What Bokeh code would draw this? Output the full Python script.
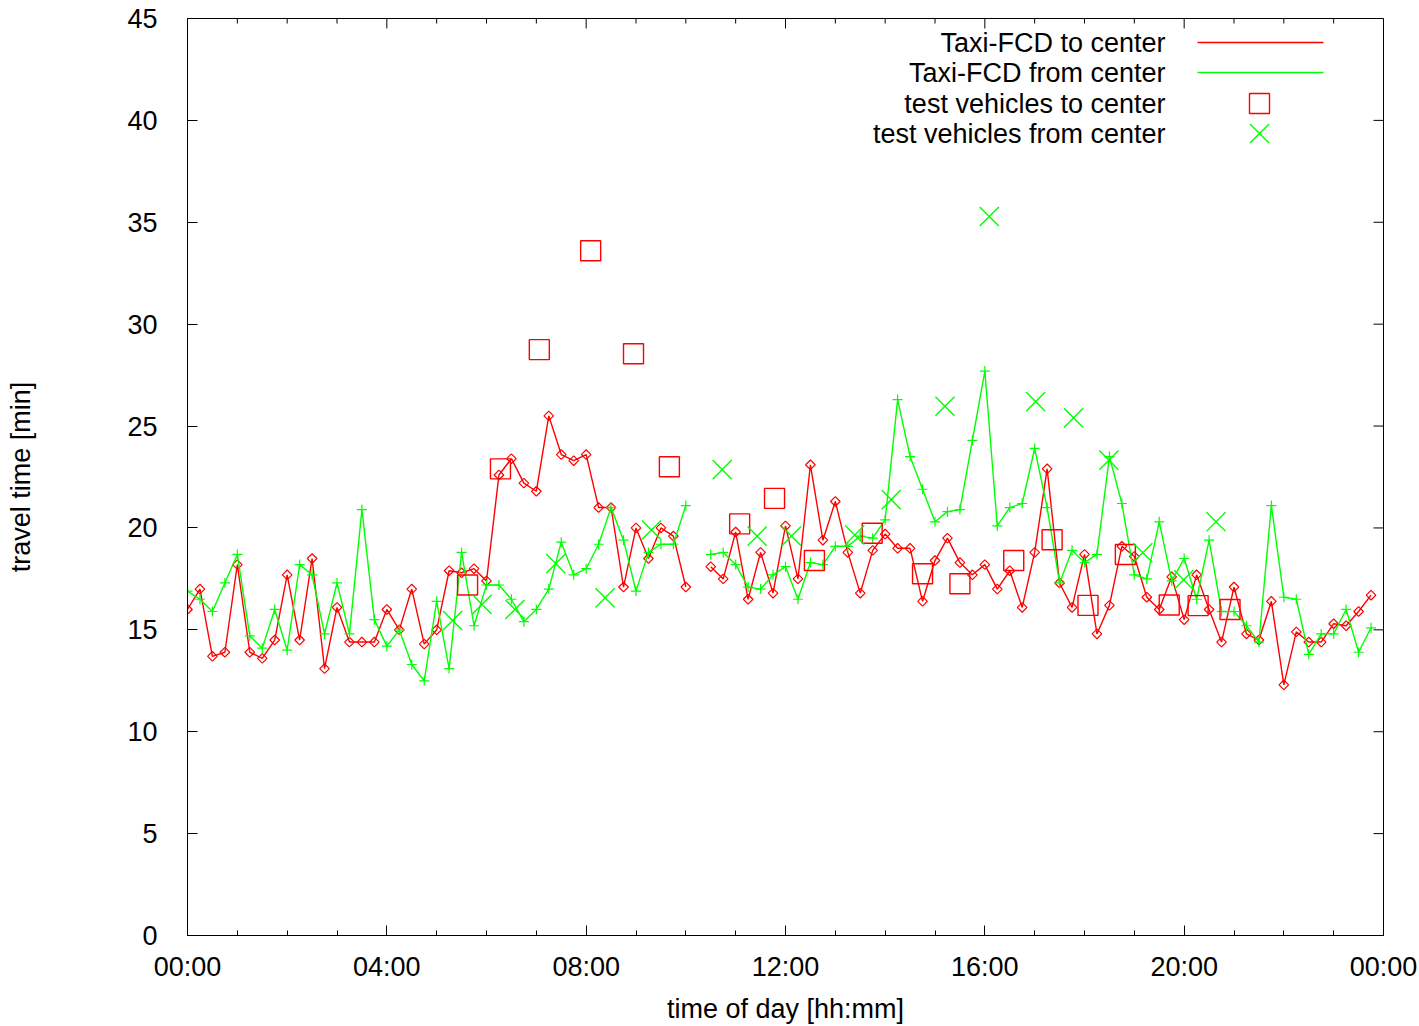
import numpy as np
from bokeh.plotting import figure
from bokeh.models import FixedTicker, Range1d, Label
from bokeh.embed import file_html
from bokeh.resources import INLINE

# ---------------- data ----------------
# Taxi-FCD samples every 15 minutes (hours of day); NaN = no data
fcd_hours = [i * 0.25 for i in range(96)]

fcd_to_center = [
    16.0, 17.0, 13.7, 13.9, 18.2, 13.9, 13.6, 14.5,
    17.7, 14.5, 18.5, 13.1, 16.1, 14.4, 14.4, 14.4,
    16.0, 15.0, 17.0, 14.3, 15.0, 17.9, 17.8, 18.0,
    17.4, 22.6, 23.4, 22.2, 21.8, 25.5, 23.6, 23.3,
    23.6, 21.0, 21.0, 17.1, 20.0, 18.5, 20.0, 19.6,
    17.1, np.nan, 18.1, 17.5, 19.8, 16.5, 18.8, 16.8,
    20.1, 17.5, 23.1, 19.4, 21.3, 18.8, 16.8, 18.9,
    19.7, 19.0, 19.0, 16.4, 18.4, 19.5, 18.3, 17.7,
    18.2, 17.0, 17.9, 16.1, 18.8, 22.9, 17.3, 16.1,
    18.7, 14.8, 16.2, 19.1, 18.6, 16.6, 16.0, 17.6,
    15.5, 17.7, 16.0, 14.4, 17.1, 14.8, 14.5, 16.4,
    12.3, 14.9, 14.4, 14.4, 15.3, 15.2, 15.9, 16.7,
]

fcd_from_center = [
    16.9, 16.5, 15.9, 17.3, 18.7, 14.7, 14.1, 16.0,
    14.0, 18.2, 17.7, 14.8, 17.3, 14.8, 20.9, 15.5,
    14.2, 15.0, 13.3, 12.5, 16.4, 13.1, 18.8, 15.2,
    17.2, 17.2, 16.5, 15.4, 16.0, 17.0, 19.3, 17.7,
    18.0, 19.2, 21.0, 19.4, 16.9, 18.8, 19.2, 19.2,
    21.1, np.nan, 18.7, 18.8, 18.2, 17.1, 17.0, 17.7,
    18.1, 16.5, 18.3, 18.2, 19.1, 19.1, 19.6, 19.5,
    20.4, 26.3, 23.5, 21.9, 20.3, 20.8, 20.9, 24.3,
    27.7, 20.1, 21.0, 21.2, 23.9, 21.0, 17.3, 18.9,
    18.3, 18.7, 23.5, 21.2, 17.7, 17.5, 20.3, 17.4,
    18.5, 16.5, 19.4, 15.9, 15.9, 15.2, 14.4, 21.1,
    16.6, 16.5, 13.8, 14.8, 14.8, 16.0, 13.9, 15.1,
]

test_to_hours = [5.62, 6.28, 7.06, 8.09, 8.95, 9.67, 11.08, 11.78, 12.58, 13.74,
                 14.75, 15.50, 16.58, 17.35, 18.07, 18.82, 19.70, 20.28, 20.92]
test_to_vals = [17.2, 22.9, 28.75, 33.6, 28.55, 23.0, 20.2, 21.45, 18.4, 19.74,
                17.75, 17.26, 18.4, 19.42, 16.2, 18.7, 16.22, 16.19, 16.0]

test_from_hours = [5.32, 5.91, 6.57, 7.39, 8.38, 9.31, 10.73, 11.43, 12.12, 13.39,
                   14.12, 15.20, 16.09, 17.02, 17.78, 18.49, 19.17, 19.99, 20.64]
test_from_vals = [15.46, 16.25, 16.0, 18.25, 16.57, 19.9, 22.86, 19.6, 19.6, 19.65,
                  21.39, 25.97, 35.28, 26.2, 25.4, 23.33, 18.78, 17.45, 20.3]

x_tick_hours = [0, 4, 8, 12, 16, 20, 24]
x_tick_labels = ["00:00", "04:00", "08:00", "12:00", "16:00", "20:00", "00:00"]
x_minor_hours = list(range(25))
y_ticks = [0, 5, 10, 15, 20, 25, 30, 35, 40, 45]

legend_labels = ["Taxi-FCD to center", "Taxi-FCD from center",
                 "test vehicles to center", "test vehicles from center"]

RED = "#ff0000"
GREEN = "#00ff00"
FONT = "Liberation Sans"
FS = "27px"

# ---------------- figure ----------------
FRAME_W, FRAME_H = 1196, 917
X0, X1, Y0, Y1 = 0, 24, 0, 45
p = figure(width=1419, height=1026, output_backend="svg", toolbar_location=None,
           x_range=Range1d(X0, X1), y_range=Range1d(Y0, Y1),
           min_border_left=187, min_border_right=36,
           min_border_top=18, min_border_bottom=91)
p.background_fill_color = "white"
p.border_fill_color = "white"
p.outline_line_color = "black"
p.outline_line_width = 1
p.xgrid.visible = False
p.ygrid.visible = False

xt = FixedTicker(ticks=x_tick_hours, minor_ticks=x_minor_hours)
yt = FixedTicker(ticks=y_ticks)


def style_axis(ax):
    ax.axis_line_color = "black"
    ax.axis_line_width = 1
    ax.major_tick_in = 10
    ax.major_tick_out = 0
    ax.minor_tick_in = 5
    ax.minor_tick_out = 0
    ax.major_tick_line_color = "black"
    ax.minor_tick_line_color = "black"
    ax.major_label_text_font = FONT
    ax.major_label_text_font_size = FS
    ax.major_label_text_color = "black"
    ax.axis_label_text_font = FONT
    ax.axis_label_text_font_size = FS
    ax.axis_label_text_font_style = "normal"
    ax.axis_label_text_color = "black"


xa = p.xaxis[0]
xa.ticker = xt
style_axis(xa)
xa.major_label_overrides = {h: s for h, s in zip(x_tick_hours, x_tick_labels)}
xa.major_label_standoff = 16
xa.axis_label = "time of day [hh:mm]"
xa.axis_label_standoff = 9

ya = p.yaxis[0]
ya.ticker = yt
style_axis(ya)
ya.minor_tick_line_color = None
ya.major_label_standoff = 30
ya.axis_label = "travel time [min]"
ya.axis_label_standoff = 88


def px_x(n):  # pixel length -> hours
    return (X1 - X0) * n / FRAME_W


def px_y(n):  # pixel length -> minutes
    return (Y1 - Y0) * n / FRAME_H


# mirrored ticks on top and right (gnuplot style)
top_major = [h for h in x_minor_hours if h in x_tick_hours]
top_minor = [h for h in x_minor_hours if h not in x_tick_hours]
p.segment(x0=top_major, y0=[Y1] * len(top_major), x1=top_major,
          y1=[Y1 - px_y(10)] * len(top_major), line_color="black", line_width=1)
p.segment(x0=top_minor, y0=[Y1] * len(top_minor), x1=top_minor,
          y1=[Y1 - px_y(5)] * len(top_minor), line_color="black", line_width=1)
p.segment(x0=[X1] * len(y_ticks), y0=y_ticks, x1=[X1 - px_x(10)] * len(y_ticks),
          y1=y_ticks, line_color="black", line_width=1)

# ---------------- data glyphs ----------------
p.line(fcd_hours, fcd_to_center, line_color=RED, line_width=1.4)
p.scatter(fcd_hours, fcd_to_center, marker="square", size=6.8, angle=np.pi / 4,
          fill_color=None, line_color=RED, line_width=1.2)

p.line(fcd_hours, fcd_from_center, line_color=GREEN, line_width=1.4)
p.scatter(fcd_hours, fcd_from_center, marker="cross", size=10,
          line_color=GREEN, line_width=1.2)

p.scatter(test_to_hours, test_to_vals, marker="square", size=20,
          fill_color=None, line_color=RED, line_width=1.4)
p.scatter(test_from_hours, test_from_vals, marker="x", size=27,
          line_color=GREEN, line_width=1.4)

# ---------------- legend (gnuplot style: text left, sample right) ----------------
def hx(px):  # frame pixel from left -> hours
    return X0 + px_x(px)


def vy(py):  # frame pixel from top -> minutes
    return Y1 - px_y(py)


row_y = [24, 54, 85, 115]
for i, lab in enumerate(legend_labels):
    p.add_layout(Label(x=hx(978), y=vy(row_y[i]), text=lab, text_align="right",
                       text_baseline="middle", text_font=FONT,
                       text_font_size=FS, text_color="black"))
p.line([hx(1010), hx(1136)], [vy(row_y[0])] * 2, line_color=RED, line_width=1.4)
p.line([hx(1010), hx(1136)], [vy(row_y[1])] * 2, line_color=GREEN, line_width=1.4)
p.scatter([hx(1072)], [vy(row_y[2])], marker="square", size=20,
          fill_color=None, line_color=RED, line_width=1.4)
p.scatter([hx(1072)], [vy(row_y[3])], marker="x", size=27,
          line_color=GREEN, line_width=1.4)

open("out.html", "w").write(file_html(p, INLINE))
